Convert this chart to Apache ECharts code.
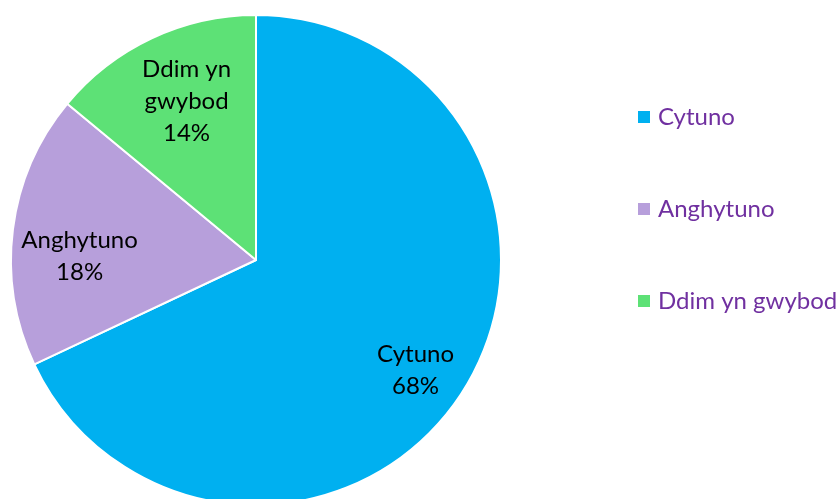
<!DOCTYPE html>
<html><head><meta charset="utf-8">
<script src="https://cdn.jsdelivr.net/npm/echarts@6/dist/echarts.min.js"></script>
<style>html,body{margin:0;padding:0;background:#fff}#c{width:840px;height:499px}</style>
</head><body><div id="c"></div>
<script>
const categories = ['Cytuno', 'Anghytuno', 'Ddim yn gwybod'];
const values = [68, 18, 14];
const labelTexts = ['Cytuno', 'Anghytuno', 'Ddim yn\ngwybod'];
const colors = ['#00B0F0', '#B79FDB', '#5DE176'];
const labelOffsets = [[6, 13], [4, 19], [8, 6]];

const chart = echarts.init(document.getElementById('c'));
const FONT = 'Lato';
const center = [256, 260];
const R = 245;
const data = categories.map((n, i) => ({ name: n, value: values[i], itemStyle: { color: colors[i] } }));
chart.setOption({
  animation: false,
  legend: {
    orient: 'vertical',
    left: 631,
    top: 100,
    itemWidth: 14,
    itemHeight: 14,
    itemGap: 68,
    icon: 'rect',
    textStyle: { color: '#7030A0', fontSize: 24, fontFamily: FONT, padding: [0, 0, 0, 2] },
    data: categories.map((n, i) => ({ name: n, itemStyle: { color: colors[i] } }))
  },
  series: [
    {
      type: 'pie',
      center: center,
      radius: [0, R],
      startAngle: 90,
      clockwise: true,
      label: { show: false },
      labelLine: { show: false },
      itemStyle: { borderColor: '#fff', borderWidth: 2 },
      emphasis: { disabled: true },
      data: data
    },
    {
      type: 'pie',
      center: center,
      radius: [R * 0.46, R],
      startAngle: 90,
      clockwise: true,
      silent: true,
      legendHoverLink: false,
      itemStyle: { color: 'rgba(0,0,0,0)', borderWidth: 0 },
      label: {
        show: true,
        position: 'inside',
        color: '#000',
        fontSize: 24,
        lineHeight: 32,
        fontFamily: FONT,
        formatter: p => labelTexts[p.dataIndex] + '\n' + p.value + '%'
      },
      labelLine: { show: false },
      emphasis: { disabled: true },
      data: categories.map((n, i) => ({ name: n, value: values[i], label: { offset: labelOffsets[i] } }))
    }
  ]
});
</script></body></html>
